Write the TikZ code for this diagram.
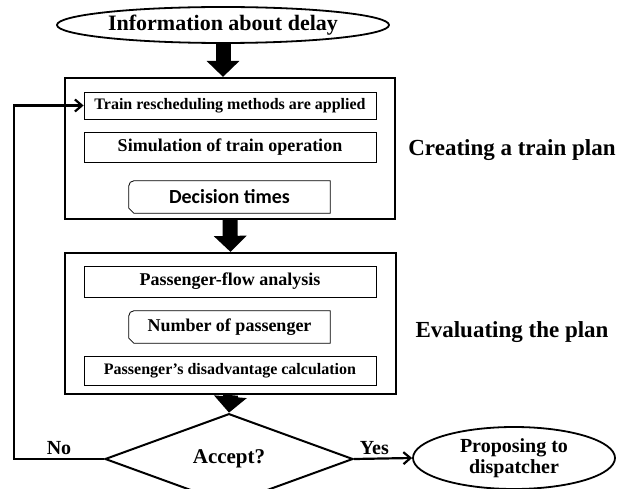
\documentclass[tikz,border=0pt]{standalone}
\usepackage{fontspec}
\setmainfont{Liberation Serif}
\newfontfamily\calibri{Carlito}
\usetikzlibrary{shapes.geometric,arrows.meta}

\tikzset{
  stage/.style={draw, line width=2.2pt, minimum width=330pt, minimum height=141pt, inner sep=0pt},
  task/.style={draw, line width=0.8pt, minimum width=292pt, inner sep=0pt, font=\bfseries\fontsize{18}{20}\selectfont},
  result/.style={minimum width=201pt, minimum height=32pt, inner sep=0pt, font=\bfseries\fontsize{18}{20}\selectfont},
  terminal/.style={draw, ellipse, line width=1.8pt, inner sep=0pt, align=center, font=\bfseries\fontsize{20}{21}\selectfont},
  phase/.style={font=\bfseries\fontsize{23}{25}\selectfont},
  answer/.style={font=\bfseries\fontsize{20}{22}\selectfont},
  bigarrow/.style={line width=15pt, -{Triangle[length=16pt,width=32pt]}},
  flow/.style={line width=2.2pt, -{Straight Barb[length=7pt,width=12pt]}},
}
\newcommand{\snipframe}[1]{%
  \draw[line width=0.8pt] ([xshift=5pt]#1.south west) -- (#1.south east) -- (#1.north east)
    [rounded corners=5pt] -- (#1.north west) [sharp corners] -- ([yshift=5pt]#1.south west) -- cycle;}

\begin{document}
\begin{tikzpicture}[x=1pt, y=-1pt]
	\useasboundingbox (0,0) rectangle (619,489);

	% Start
	\node[terminal, minimum width=332pt, minimum height=36pt, font=\bfseries\fontsize{22}{24}\selectfont] (info) at (223,25) {Information about delay};

	% Creating a train plan
	\node[stage] (create) at (230,148.5) {};
	\node[task, minimum height=27pt, font=\bfseries\fontsize{16}{18}\selectfont] (train) at (230,105.5) {Train rescheduling methods are applied};
	\node[task, minimum height=30pt] (sim) at (230,147) {Simulation of train operation};
	\node[result, font=\calibri\bfseries\fontsize{20}{22}\selectfont] (decide) at (229.5,197) {Decision times};
	\snipframe{decide}
	\node[phase] (createlbl) at (512,150) {Creating a train plan};

	% Evaluating the plan
	\node[stage, minimum width=331pt] (eval) at (230.5,323.5) {};
	\node[task, minimum height=31pt] (flowana) at (230,281.5) {Passenger-flow analysis};
	\node[result] (number) at (229.5,327) {Number of passenger};
	\snipframe{number}
	\node[task, minimum height=29pt, font=\bfseries\fontsize{16}{18}\selectfont] (disadv) at (230,370.5) {Passenger’s disadvantage calculation};
	\node[phase] (evallbl) at (512,332) {Evaluating the plan};

	% Decision and end
	\node[draw, diamond, line width=2pt, minimum width=248pt, minimum height=64pt, inner sep=0pt, font=\bfseries\fontsize{21}{23}\selectfont] (accept) at (229,459) {Accept?};
	\node[terminal, minimum width=202pt, minimum height=62pt] (propose) at (514,458) {Proposing to\\dispatcher};
	\coordinate (back) at (14,459);

	% Arrows
	\draw[bigarrow] (info.south) -- (info.south |- create.north);
	\draw[bigarrow] (create.south) -- (eval.north);
	\draw[bigarrow] (eval.south) -- (accept.north);
	\draw[flow] (accept.west) -- node[midway, above, answer] {No} (back) |- (train.west);
	\draw[flow] (accept.east) -- node[pos=0.35, above, answer] {Yes} (propose.west);
\end{tikzpicture}
\end{document}
